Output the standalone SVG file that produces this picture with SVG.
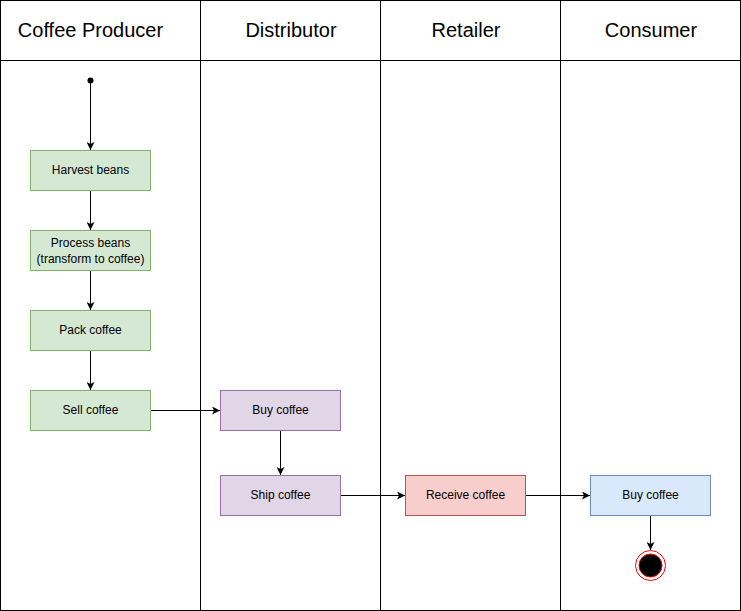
<svg xmlns="http://www.w3.org/2000/svg" width="741" height="611" viewBox="0 0 741 611">
<style>
.lane{fill:none;stroke:#000;stroke-width:1}
.hdr{font-family:"Liberation Sans",Arial,sans-serif;font-size:20px;fill:#000;text-anchor:middle}
.lbl{font-family:"Liberation Sans",Arial,sans-serif;font-size:12px;fill:#000;text-anchor:middle}
.g{fill:#d5e8d4;stroke:#82b366}
.p{fill:#e1d5e7;stroke:#9673a6}
.r{fill:#f8cecc;stroke:#b85450}
.b{fill:#dae8fc;stroke:#6c8ebf}
.e{fill:none;stroke:#000;stroke-width:1;marker-end:url(#arr)}
</style>
<defs>
<marker id="arr" viewBox="0 0 10 10" refX="10" refY="5" markerWidth="8" markerHeight="8" markerUnits="userSpaceOnUse" orient="auto">
<path d="M0,0 L10,5 L0,10 L2.5,5 Z" fill="#000"/>
</marker>
</defs>
<rect width="741" height="611" fill="#fff"/>
<g id="pool">
<rect class="lane" x="0.5" y="0.5" width="740" height="610"/>
<line class="lane" x1="0.5" y1="60.5" x2="740.5" y2="60.5"/>
<line class="lane" x1="200.5" y1="0.5" x2="200.5" y2="610.5"/>
<line class="lane" x1="380.5" y1="0.5" x2="380.5" y2="610.5"/>
<line class="lane" x1="560.5" y1="0.5" x2="560.5" y2="610.5"/>
<text class="hdr" x="90.5" y="37">Coffee Producer</text>
<text class="hdr" x="291" y="37">Distributor</text>
<text class="hdr" x="466" y="37">Retailer</text>
<text class="hdr" x="651" y="37">Consumer</text>
</g>
<g id="edges">
<path class="e" d="M90.5,80 V150"/>
<path class="e" d="M90.5,190 V230"/>
<path class="e" d="M90.5,270 V310"/>
<path class="e" d="M90.5,350 V390"/>
<path class="e" d="M150,410.5 H220"/>
<path class="e" d="M280.5,430 V475"/>
<path class="e" d="M340,495.5 H405"/>
<path class="e" d="M525,495.5 H590"/>
<path class="e" d="M650.5,515 V550"/>
</g>
<g id="start"><circle cx="90.5" cy="80.5" r="3" fill="#000"/></g>
<g id="harvest"><rect class="g" x="30.5" y="150.5" width="120" height="40"/><text class="lbl" x="90.5" y="174">Harvest beans</text></g>
<g id="process"><rect class="g" x="30.5" y="230.5" width="120" height="40"/><text class="lbl" x="90.5" y="246.5">Process beans</text><text class="lbl" x="90.5" y="262.5">(transform to coffee)</text></g>
<g id="pack"><rect class="g" x="30.5" y="310.5" width="120" height="40"/><text class="lbl" x="90.5" y="334">Pack coffee</text></g>
<g id="sell"><rect class="g" x="30.5" y="390.5" width="120" height="40"/><text class="lbl" x="90.5" y="414">Sell coffee</text></g>
<g id="distbuy"><rect class="p" x="220.5" y="390.5" width="120" height="40"/><text class="lbl" x="280.5" y="414">Buy coffee</text></g>
<g id="ship"><rect class="p" x="220.5" y="475.5" width="120" height="40"/><text class="lbl" x="280.5" y="499">Ship coffee</text></g>
<g id="receive"><rect class="r" x="405.5" y="475.5" width="120" height="40"/><text class="lbl" x="465.5" y="499">Receive coffee</text></g>
<g id="consbuy"><rect class="b" x="590.5" y="475.5" width="120" height="40"/><text class="lbl" x="650.5" y="499">Buy coffee</text></g>
<g id="end"><circle cx="650.5" cy="565.5" r="15" fill="#fff" stroke="#ff0000"/><circle cx="650.5" cy="565.5" r="11.5" fill="#000" stroke="#ff0000"/></g>
</svg>
